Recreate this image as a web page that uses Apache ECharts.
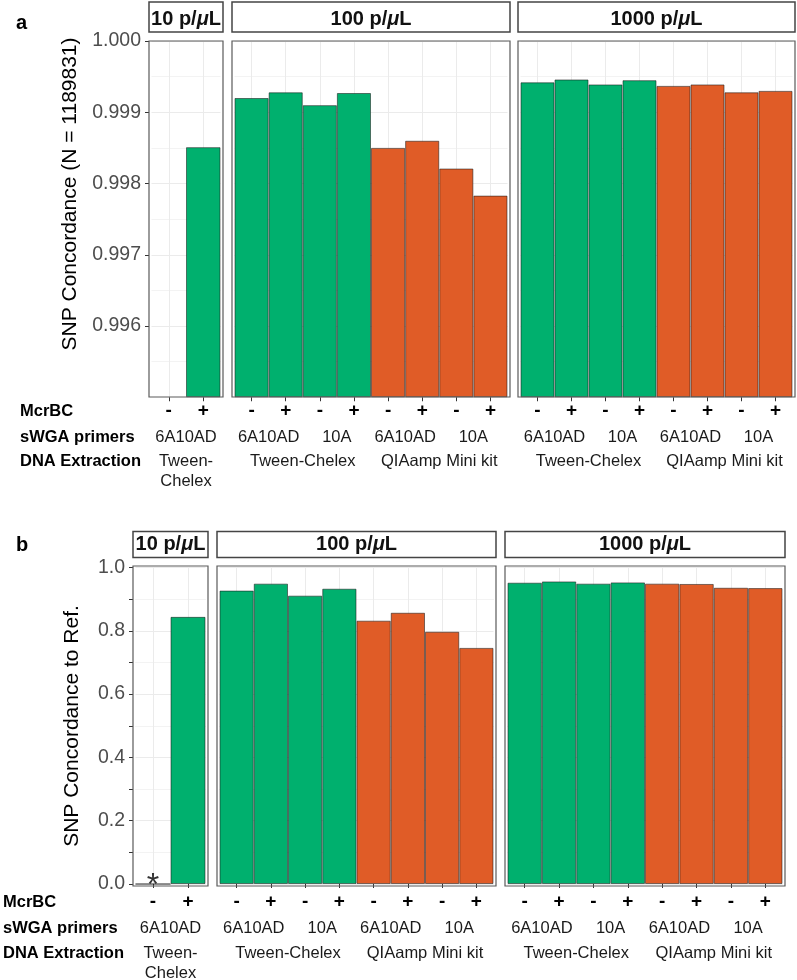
<!DOCTYPE html>
<html><head><meta charset="utf-8">
<script src="https://cdn.jsdelivr.net/npm/echarts@6/dist/echarts.min.js"></script>
<style>html,body{margin:0;padding:0;background:#fff}#chart{width:797px;height:980px}</style>
</head><body><div id="chart"></div>
<script>
// ---------------- data ----------------
const concentrations = ['10 p/μL', '100 p/μL', '1000 p/μL'];
const mcrbc10 = ['-', '+'];
const mcrbc = ['-', '+', '-', '+', '-', '+', '-', '+'];
const primers10 = ['6A10AD'];
const primers = ['6A10AD', '10A', '6A10AD', '10A'];
const extraction10 = ['Tween-\nChelex'];
const extraction = ['Tween-Chelex', 'QIAamp Mini kit'];
const barExtraction10 = ['Tween-Chelex', 'Tween-Chelex'];
const barExtraction = ['Tween-Chelex', 'Tween-Chelex', 'Tween-Chelex', 'Tween-Chelex',
  'QIAamp Mini kit', 'QIAamp Mini kit', 'QIAamp Mini kit', 'QIAamp Mini kit'];
// panel a: SNP concordance (N = 1189831)
const concA10 = [null, 0.99851];
const concA100 = [0.99920, 0.99928, 0.99910, 0.99927, 0.99850, 0.99860, 0.99821, 0.99783];
const concA1000 = [0.99942, 0.99946, 0.99939, 0.99945, 0.99937, 0.99939, 0.99928, 0.99930];
// panel b: SNP concordance to Ref.
const concB10 = [0, 0.844];
const concB100 = [0.927, 0.949, 0.911, 0.933, 0.832, 0.857, 0.797, 0.746];
const concB1000 = [0.952, 0.956, 0.949, 0.953, 0.949, 0.948, 0.936, 0.935];
const yTicksA = [0.996, 0.997, 0.998, 0.999, 1.000];
const yTicksB = [0.0, 0.2, 0.4, 0.6, 0.8, 1.0];
const yTickMarksB = [0.0, 0.1, 0.2, 0.3, 0.4, 0.5, 0.6, 0.7, 0.8, 0.9, 1.0];
const rowTitles = ['McrBC', 'sWGA primers', 'DNA Extraction'];
const axisTitleA = 'SNP Concordance (N = 1189831)';
const axisTitleB = 'SNP Concordance to Ref.';

// ---------------- styling / layout ----------------
const FONT = '"Liberation Sans", Arial, Helvetica, sans-serif';
const COLORS = { 'Tween-Chelex': '#00B06E', 'QIAamp Mini kit': '#E05C27' };
const PAD = 2.5;
const LH = 20;
const sections = [
  { tag: 'a', tagY: 23, title: axisTitleA, titleX: 70, titleY: 194,
    stripTop: 2, stripBottom: 32, stripTextY: 19,
    frameTop: 41, frameBottom: 397, gridTop: 41, gridBottom: 397.25,
    frames: [[149, 223], [232, 510], [518, 795]], rowY: [411, 437, 461], rowTitleX: 20,
    yMin: 0.995, yMax: 1.0, yInterval: 0.001, yTicks: yTicksA, yTickMarks: yTicksA, digits: 3,
    values: [concA10, concA100, concA1000] },
  { tag: 'b', tagY: 545, title: axisTitleB, titleX: 72, titleY: 726,
    stripTop: 531.5, stripBottom: 557.5, stripTextY: 544,
    frameTop: 566, frameBottom: 886, gridTop: 567.5, gridBottom: 884,
    frames: [[133, 208], [217, 496], [505, 785]], rowY: [902, 928, 953], rowTitleX: 3,
    yMin: 0, yMax: 1.0, yInterval: 0.2, yTicks: yTicksB, yTickMarks: yTickMarksB, digits: 1,
    values: [concB10, concB100, concB1000] }
];

const grid = [], xAxis = [], yAxis = [], series = [], graphic = [];
function stripRich(txt) {
  return '{b|' + txt.replace('μ', '}{i|μ}{b|') + '}';
}
sections.forEach((s, si) => {
  graphic.push({ type: 'text', x: 16, y: s.tagY, z: 100,
    style: { text: s.tag, font: 'bold 20px ' + FONT, fill: '#000', verticalAlign: 'middle' } });
  graphic.push({ type: 'text', x: s.titleX, y: s.titleY, rotation: Math.PI / 2, z: 100,
    style: { text: s.title, font: '21px ' + FONT, fill: '#000', align: 'center', verticalAlign: 'middle' } });
  rowTitles.forEach((t, ri) => {
    graphic.push({ type: 'text', x: s.rowTitleX, y: s.rowY[ri], z: 100,
      style: { text: t, font: 'bold 16.5px ' + FONT, fill: '#000', verticalAlign: 'middle' } });
  });
  const xOff = Math.max(0, s.frameBottom - s.gridBottom);
  s.frames.forEach((f, p) => {
    const gi = grid.length;
    const mcr = p === 0 ? mcrbc10 : mcrbc;
    const prim = p === 0 ? primers10 : primers;
    const ext = p === 0 ? extraction10 : extraction;
    const barExt = p === 0 ? barExtraction10 : barExtraction;
    grid.push({ left: f[0] + PAD, width: f[1] - f[0] - 2 * PAD, top: s.gridTop,
      height: s.gridBottom - s.gridTop, containLabel: false, outerBoundsMode: 'none' });
    const margins = s.rowY.map(y => y - LH / 2 - s.frameBottom);
    xAxis.push({ type: 'category', gridIndex: gi, data: mcr, position: 'bottom', offset: xOff,
      axisLine: { show: false },
      axisTick: { show: true, alignWithLabel: true, length: 4, lineStyle: { color: '#333' } },
      axisLabel: { interval: 0, margin: margins[0], verticalAlign: 'top', lineHeight: LH,
        fontSize: 19, fontWeight: 'bold', color: '#000', fontFamily: FONT },
      splitLine: { show: true, interval: 0, alignWithLabel: true, lineStyle: { color: '#EBEBEB', width: 1 } } });
    xAxis.push({ type: 'category', gridIndex: gi, data: prim, position: 'bottom', offset: xOff,
      axisLine: { show: false }, axisTick: { show: false }, splitLine: { show: false },
      axisLabel: { interval: 0, margin: margins[1], verticalAlign: 'top', lineHeight: LH,
        fontSize: 16.5, color: '#1A1A1A', fontFamily: FONT } });
    xAxis.push({ type: 'category', gridIndex: gi, data: ext, position: 'bottom', offset: xOff,
      axisLine: { show: false }, axisTick: { show: false }, splitLine: { show: false },
      axisLabel: { interval: 0, margin: margins[2], verticalAlign: 'top', lineHeight: LH,
        fontSize: 16.5, color: '#1A1A1A', fontFamily: FONT } });
    yAxis.push({ type: 'value', gridIndex: gi, min: s.yMin, max: s.yMax, interval: s.yInterval,
      startValue: s.yMin, offset: PAD,
      axisLine: { show: false },
      axisTick: { show: p === 0, customValues: s.yTickMarks, length: 4, lineStyle: { color: '#333' } },
      axisLabel: { show: p === 0, customValues: s.yTicks, margin: 8,
        formatter: v => Number(v).toFixed(s.digits), fontSize: 19.5, color: '#4D4D4D', fontFamily: FONT },
      splitLine: { show: true, lineStyle: { color: '#EBEBEB', width: 1 } },
      minorTick: { show: false, splitNumber: 2 },
      minorSplitLine: { show: true, lineStyle: { color: '#F3F3F3', width: 1 } } });
    series.push({ type: 'bar', xAxisIndex: gi * 3, yAxisIndex: gi, data: s.values[p],
      barWidth: '100%', barCategoryGap: 0, clip: true, silent: true,
      itemStyle: { color: prm => COLORS[barExt[prm.dataIndex]], borderColor: 'rgba(25,25,25,0.55)', borderWidth: 1 },
      label: { show: true, position: 'top', distance: 0, offset: [0, 19],
        formatter: prm => (prm.value === 0 ? '*' : ''), fontSize: 32, color: '#333', fontFamily: FONT } });
    graphic.push({ type: 'rect', z: 100, silent: true,
      shape: { x: f[0], y: s.frameTop, width: f[1] - f[0], height: s.frameBottom - s.frameTop },
      style: { fill: 'none', stroke: '#5A5A5A', lineWidth: 1.2 } });
    graphic.push({ type: 'rect', z: 100, silent: true,
      shape: { x: f[0], y: s.stripTop, width: f[1] - f[0], height: s.stripBottom - s.stripTop },
      style: { fill: '#fff', stroke: '#444', lineWidth: 1.5 } });
    graphic.push({ type: 'text', z: 101, silent: true, x: (f[0] + f[1]) / 2, y: s.stripTextY,
      style: { text: stripRich(concentrations[p]), align: 'center', verticalAlign: 'middle',
        rich: { b: { fontWeight: 'bold', fontSize: 20, fontFamily: FONT, fill: '#111' },
                i: { fontWeight: 'bold', fontStyle: 'italic', fontSize: 20, fontFamily: FONT, fill: '#111' } } } });
  });
});

const chart = echarts.init(document.getElementById('chart'), null, { renderer: 'canvas' });
chart.setOption({
  animation: false,
  backgroundColor: '#fff',
  textStyle: { fontFamily: FONT },
  grid, xAxis, yAxis, series, graphic
});
</script></body></html>
